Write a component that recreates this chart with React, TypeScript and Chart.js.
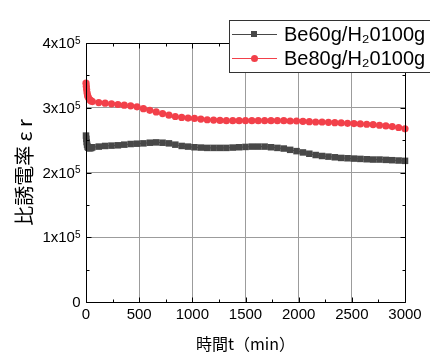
import React, { useEffect, useRef } from "react";
import { Chart, registerables } from "chart.js";

Chart.register(...registerables);

const times = [
  0, 3, 6, 10, 15, 20, 30, 40, 50,
  60, 120, 180, 240, 300, 360, 420, 480, 540, 600, 660, 720, 780, 840, 900, 960,
  1020, 1080, 1140, 1200, 1260, 1320, 1380, 1440, 1500, 1560, 1620, 1680, 1740, 1800,
  1860, 1920, 1980, 2040, 2100, 2160, 2220, 2280, 2340, 2400, 2460, 2520, 2580, 2640,
  2700, 2760, 2820, 2880, 2940, 3000,
];

const be60 = [
  257000, 252000, 247000, 243000, 240000, 238500, 237500, 237500, 238000,
  239000, 240000, 241000, 241500, 242000, 243000, 244000, 244500, 245000, 246000, 246500, 246000, 245000, 243000, 241000, 240000,
  239000, 238500, 238000, 238000, 238000, 238000, 238500, 239000, 239500, 240000, 240000, 240000, 239000, 238000,
  237000, 235000, 233000, 231000, 229000, 227000, 225500, 224500, 223500, 222500, 222000, 221500, 221000, 220500,
  220000, 220000, 219500, 219000, 218500, 218000,
];

const be80 = [
  338000, 333000, 328000, 323000, 319000, 316500, 313500, 311500, 310500,
  309500, 308000, 307000, 306000, 305000, 304000, 303000, 301500, 298500, 296000, 293500, 291000, 288500, 286500, 285000, 284000,
  283500, 282500, 281500, 281000, 280500, 280000, 280000, 280000, 280000, 280000, 280000, 280000, 280000, 280000,
  280000, 279500, 279500, 279000, 278500, 278000, 278000, 277500, 277000, 276500, 276000, 275500, 275000, 274500,
  274000, 273000, 272000, 271000, 269500, 267500,
];

const seriesNames = ["Be60g/H\u20820100g", "Be80g/H\u20820100g"];
const seriesColors = ["#484848", "#f2404a"];
const seriesShapes = ["rect", "circle"];

const xTicks = [0, 500, 1000, 1500, 2000, 2500, 3000];
const xMinorTicks = [250, 750, 1250, 1750, 2250, 2750];
const yTicks = [0, 100000, 200000, 300000, 400000];
const yMinorTicks = [50000, 150000, 250000, 350000];
const yTickBase = ["0", "1x10", "2x10", "3x10", "4x10"];
const yTickExp = ["", "5", "5", "5", "5"];

const xTitle = "時間t（min）";
const yTitle = "比誘電率 ε r";

const framePlugin = {
  id: "framePlugin",
  afterDraw(chart: any) {
    const { ctx, chartArea } = chart;
    const { left, right, top, bottom } = chartArea;
    const xs = chart.scales.x;
    const ys = chart.scales.y;
    ctx.save();
    ctx.strokeStyle = "#000";
    ctx.lineWidth = 1;
    ctx.beginPath();
    const L = Math.round(left) + 0.5;
    const R = Math.round(right) + 0.5;
    const T = Math.round(top) + 0.5;
    const B = Math.round(bottom) + 0.5;
    ctx.rect(L, T, R - L, B - T);
    const tick = (vals: number[], len: number) => {
      vals.forEach((v) => {
        const px = Math.round(xs.getPixelForValue(v)) + 0.5;
        ctx.moveTo(px, B);
        ctx.lineTo(px, B - len);
        ctx.moveTo(px, T);
        ctx.lineTo(px, T + len);
      });
    };
    const ytick = (vals: number[], len: number) => {
      vals.forEach((v) => {
        const py = Math.round(ys.getPixelForValue(v)) + 0.5;
        ctx.moveTo(L, py);
        ctx.lineTo(L + len, py);
        ctx.moveTo(R, py);
        ctx.lineTo(R - len, py);
      });
    };
    tick(xTicks, 5);
    tick(xMinorTicks, 3);
    ytick(yTicks, 5);
    ytick(yMinorTicks, 3);
    ctx.stroke();

    // y tick labels with superscript exponent
    ctx.fillStyle = "#000";
    ctx.textAlign = "right";
    yTicks.forEach((v, i) => {
      const py = ys.getPixelForValue(v);
      const rx = L - 6;
      ctx.font = "10px 'Liberation Sans', sans-serif";
      ctx.textBaseline = "top";
      const ew = yTickExp[i] ? ctx.measureText(yTickExp[i]).width : 0;
      if (yTickExp[i]) ctx.fillText(yTickExp[i], rx, py - 7);
      ctx.font = "15px 'Liberation Sans', sans-serif";
      ctx.textBaseline = "middle";
      ctx.fillText(yTickBase[i], rx - ew, py + 1);
    });
    ctx.restore();

    // legend
    ctx.save();
    const bx = 229.5, by = 20.5, bw = 210, bh = 52;
    ctx.fillStyle = "#fff";
    ctx.fillRect(bx, by, bw, bh);
    ctx.strokeStyle = "#333";
    ctx.lineWidth = 1;
    ctx.strokeRect(bx, by, bw, bh);
    const rows = [34, 58];
    rows.forEach((ry, i) => {
      ctx.strokeStyle = seriesColors[i];
      ctx.lineWidth = 1;
      ctx.beginPath();
      ctx.moveTo(232, ry + 0.5);
      ctx.lineTo(277, ry + 0.5);
      ctx.stroke();
      ctx.fillStyle = seriesColors[i];
      if (seriesShapes[i] === "rect") {
        ctx.fillRect(251, ry - 3, 6, 6);
      } else {
        ctx.beginPath();
        ctx.arc(254.5, ry + 0.5, 3.5, 0, Math.PI * 2);
        ctx.fill();
      }
      ctx.fillStyle = "#000";
      ctx.font = "20px 'Liberation Sans', sans-serif";
      ctx.textBaseline = "middle";
      ctx.textAlign = "left";
      ctx.fillText(seriesNames[i], 284, ry + 1);
    });
    ctx.restore();
  },
};

export default function App() {
  const ref = useRef<HTMLCanvasElement | null>(null);
  useEffect(() => {
    if (!ref.current) return;
    const chart = new Chart(ref.current, {
      type: "scatter",
      data: {
        datasets: seriesNames.map((name, i) => ({
          label: name,
          data: times.map((t, j) => ({ x: t, y: (i === 0 ? be60 : be80)[j] })),
          showLine: true,
          borderColor: seriesColors[i],
          backgroundColor: seriesColors[i],
          borderWidth: 1,
          pointStyle: seriesShapes[i] as any,
          pointRadius: i === 0 ? 4.6 : 3.6,
          pointBorderWidth: 0,
          clip: false as any,
        })),
      },
      plugins: [framePlugin],
      options: {
        responsive: false,
        animation: false,
        events: [],
        layout: { padding: { top: 43, right: 25, left: 0, bottom: 0 } },
        plugins: {
          legend: { display: false },
          tooltip: { enabled: false },
        },
        scales: {
          x: {
            type: "linear",
            min: 0,
            max: 3000,
            afterFit: (s: any) => {
              s.height = 54;
            },
            afterBuildTicks: (s: any) => {
              s.ticks = xTicks.map((v) => ({ value: v }));
            },
            ticks: {
              color: "#000",
              font: { family: "'Liberation Sans', sans-serif", size: 15 },
              padding: 4,
              maxRotation: 0,
              callback: (v: any) => String(v),
            },
            grid: { color: "#9c9c9c", lineWidth: 1, drawTicks: false },
            border: { display: false },
            title: {
              display: true,
              text: xTitle,
              color: "#000",
              font: { family: "'Noto Sans CJK JP', sans-serif", size: 16 },
              padding: { top: 0, bottom: 2 },
            },
          },
          y: {
            type: "linear",
            min: 0,
            max: 400000,
            afterFit: (s: any) => {
              s.width = 86;
            },
            afterBuildTicks: (s: any) => {
              s.ticks = yTicks.map((v) => ({ value: v }));
            },
            ticks: {
              display: false,
            },
            grid: { color: "#9c9c9c", lineWidth: 1, drawTicks: false },
            border: { display: false },
            title: {
              display: true,
              text: yTitle,
              color: "#000",
              font: { family: "'Noto Sans CJK JP', sans-serif", size: 20 },
              padding: { top: 12, bottom: 0 },
            },
          },
        },
      },
    });
    return () => chart.destroy();
  }, []);
  return (
    <div style={{ position: "fixed", left: 0, top: 0, width: 430, height: 356, background: "#fff" }}>
      <canvas ref={ref} width={430} height={356} />
    </div>
  );
}
